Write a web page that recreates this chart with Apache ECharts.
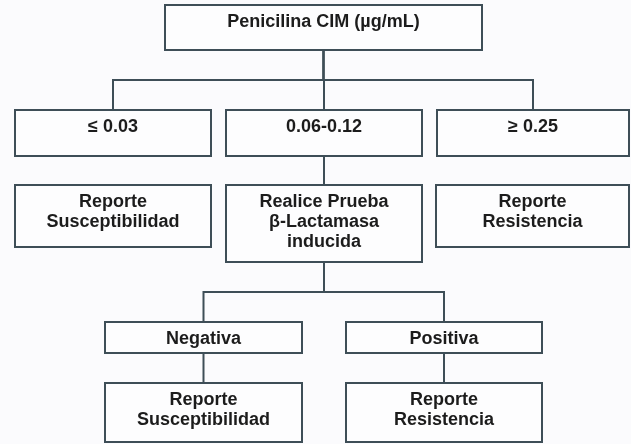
<!DOCTYPE html>
<html>
<head>
<meta charset="utf-8">
<script src="https://cdn.jsdelivr.net/npm/echarts@6/dist/echarts.min.js"></script>
<style>
  html, body { margin: 0; padding: 0; background: #fbfbfd; }
  #chart { width: 631px; height: 444px; }
</style>
</head>
<body>
<div id="chart"></div>
<script>
// texto de cada caja del diagrama
const nodeLabels = [
  'Penicilina CIM (µg/mL)',
  '≤ 0.03',
  '0.06-0.12',
  '≥ 0.25',
  'Reporte\nSusceptibilidad',
  'Realice Prueba\nβ-Lactamasa\ninducida',
  'Reporte\nResistencia',
  'Negativa',
  'Positiva',
  'Reporte\nSusceptibilidad',
  'Reporte\nResistencia'
];
// conexiones padre -> hijo
const linkPairs = [[0, 1], [0, 2], [0, 3], [2, 5], [5, 7], [5, 8], [7, 9], [8, 10]];

// layout (unidades del eje): [x1, y1, x2, y2]
const boxLayout = [
  [165, 5, 482, 50],
  [15, 110, 211, 156], [226, 110, 422, 156], [437, 110, 629, 156],
  [15, 185, 211, 247], [226, 185, 422, 262], [436, 185, 629, 247],
  [105, 322, 302, 353], [346, 322, 542, 353],
  [105, 383, 302, 442], [346, 383, 542, 442]
];

const lineColor = '#3e4e57';
const textFont = 'bold 18px "Liberation Sans", Arial, sans-serif';

const chart = echarts.init(document.getElementById('chart'));

function boxItem(params, api) {
  const i = params.dataIndex;
  const b = boxLayout[i];
  const p1 = api.coord([b[0], b[1]]);
  const p2 = api.coord([b[2], b[3]]);
  return {
    type: 'group',
    children: [
      {
        type: 'rect',
        shape: { x: p1[0], y: p1[1], width: p2[0] - p1[0], height: p2[1] - p1[1] },
        style: { fill: '#fdfdfe', stroke: lineColor, lineWidth: 2 }
      },
      {
        type: 'text',
        style: {
          text: nodeLabels[i],
          x: (p1[0] + p2[0]) / 2,
          y: p1[1] + 7,
          align: 'center',
          verticalAlign: 'top',
          font: textFont,
          lineHeight: 20,
          fill: '#1c1c1c'
        }
      }
    ]
  };
}

function linkItem(params, api) {
  const pair = linkPairs[params.dataIndex];
  const a = boxLayout[pair[0]];
  const c = boxLayout[pair[1]];
  const px = (a[0] + a[2]) / 2;
  const cx = (c[0] + c[2]) / 2;
  const midY = (a[3] + c[1]) / 2;
  const pts = [[px, a[3]], [px, midY], [cx, midY], [cx, c[1]]].map(p => api.coord(p));
  return {
    type: 'polyline',
    shape: { points: pts },
    style: { fill: null, stroke: lineColor, lineWidth: 2 }
  };
}

chart.setOption({
  backgroundColor: '#fbfbfd',
  animation: false,
  grid: { left: 0, right: 0, top: 0, bottom: 0 },
  xAxis: { type: 'value', min: 0, max: 631, show: false },
  yAxis: { type: 'value', min: 0, max: 444, inverse: true, show: false },
  series: [
    {
      type: 'custom',
      silent: true,
      clip: false,
      renderItem: linkItem,
      data: linkPairs.map((p, i) => [i, i])
    },
    {
      type: 'custom',
      silent: true,
      clip: false,
      renderItem: boxItem,
      data: nodeLabels.map((name, i) => ({ name: name, value: [i, i] }))
    }
  ]
});
</script>
</body>
</html>
